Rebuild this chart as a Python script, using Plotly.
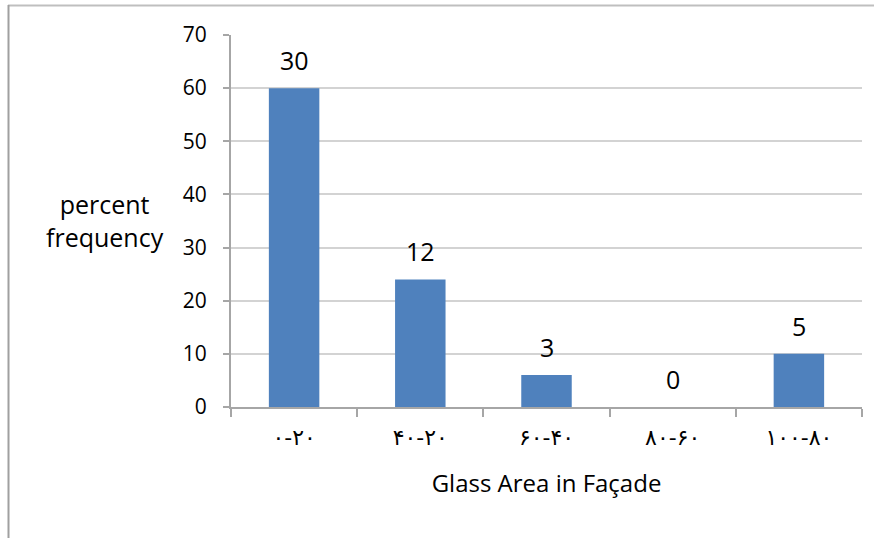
import plotly.graph_objects as go

categories = ["۰-۲۰", "۴۰-۲۰", "۶۰-۴۰", "۸۰-۶۰", "۱۰۰-۸۰"]
percent = [60, 24, 6, 0, 10]
counts = [30, 12, 3, 0, 5]
y_ticks = [0, 10, 20, 30, 40, 50, 60, 70]

L, R, T, B = 231, 12, 35, 131
W, H = 874, 538
pw, ph = W - L - R, H - T - B

def px(x):
    return (x - L) / pw

def py(y):
    return (H - B - y) / ph

FONT = "Open Sans, DejaVu Sans, sans-serif"

fig = go.Figure(go.Bar(
    x=categories, y=percent,
    marker=dict(color="#4F81BD", line=dict(width=0)),
    width=0.4,
))

annotations = [dict(
    text="percent<br>frequency", xref="paper", yref="paper",
    x=px(105), y=py(220), xanchor="center", yanchor="middle",
    showarrow=False, font=dict(size=25, family=FONT), align="center",
)]
for c, v, n in zip(categories, percent, counts):
    annotations.append(dict(
        x=c, y=v, xref="x", yref="y", text=str(n), showarrow=False,
        xanchor="center", yanchor="bottom", yshift=9,
        font=dict(size=25, family=FONT, color="#000000"),
    ))

fig.update_layout(
    width=W, height=H,
    margin=dict(l=L, r=R, t=T, b=B, autoexpand=False),
    paper_bgcolor="white", plot_bgcolor="white",
    showlegend=False,
    font=dict(family=FONT, color="#000000"),
    xaxis=dict(
        title=dict(text="Glass Area in Façade", font=dict(size=24, family=FONT), standoff=26),
        tickfont=dict(size=22, family="DejaVu Sans, sans-serif"),
        ticklabelstandoff=10,
        showline=True, linecolor="#A6A6A6", linewidth=2,
        ticks="outside", ticklen=8, tickcolor="#A6A6A6", tickwidth=2,
        tickson="boundaries", showgrid=False,
    ),
    yaxis=dict(
        range=[0, 70], tickvals=y_ticks,
        tickfont=dict(size=21, family=FONT),
        ticklabelstandoff=12,
        showline=True, linecolor="#A6A6A6", linewidth=2,
        ticks="outside", ticklen=6, tickcolor="#A6A6A6", tickwidth=2,
        showgrid=True, gridcolor="#D3D3D3", gridwidth=2,
        zeroline=False,
    ),
    annotations=annotations,
    shapes=[
        dict(type="line", xref="paper", yref="paper", x0=px(8), x1=px(874), y0=py(5.5), y1=py(5.5),
             line=dict(color="#BFBFBF", width=2)),
        dict(type="line", xref="paper", yref="paper", x0=px(8.5), x1=px(8.5), y0=py(5), y1=py(538),
             line=dict(color="#A0A0A0", width=2)),
    ],
)

fig.write_html("out.html", config={"displayModeBar": False},
               post_script="document.body.style.margin='0';document.body.style.overflow='hidden';")
